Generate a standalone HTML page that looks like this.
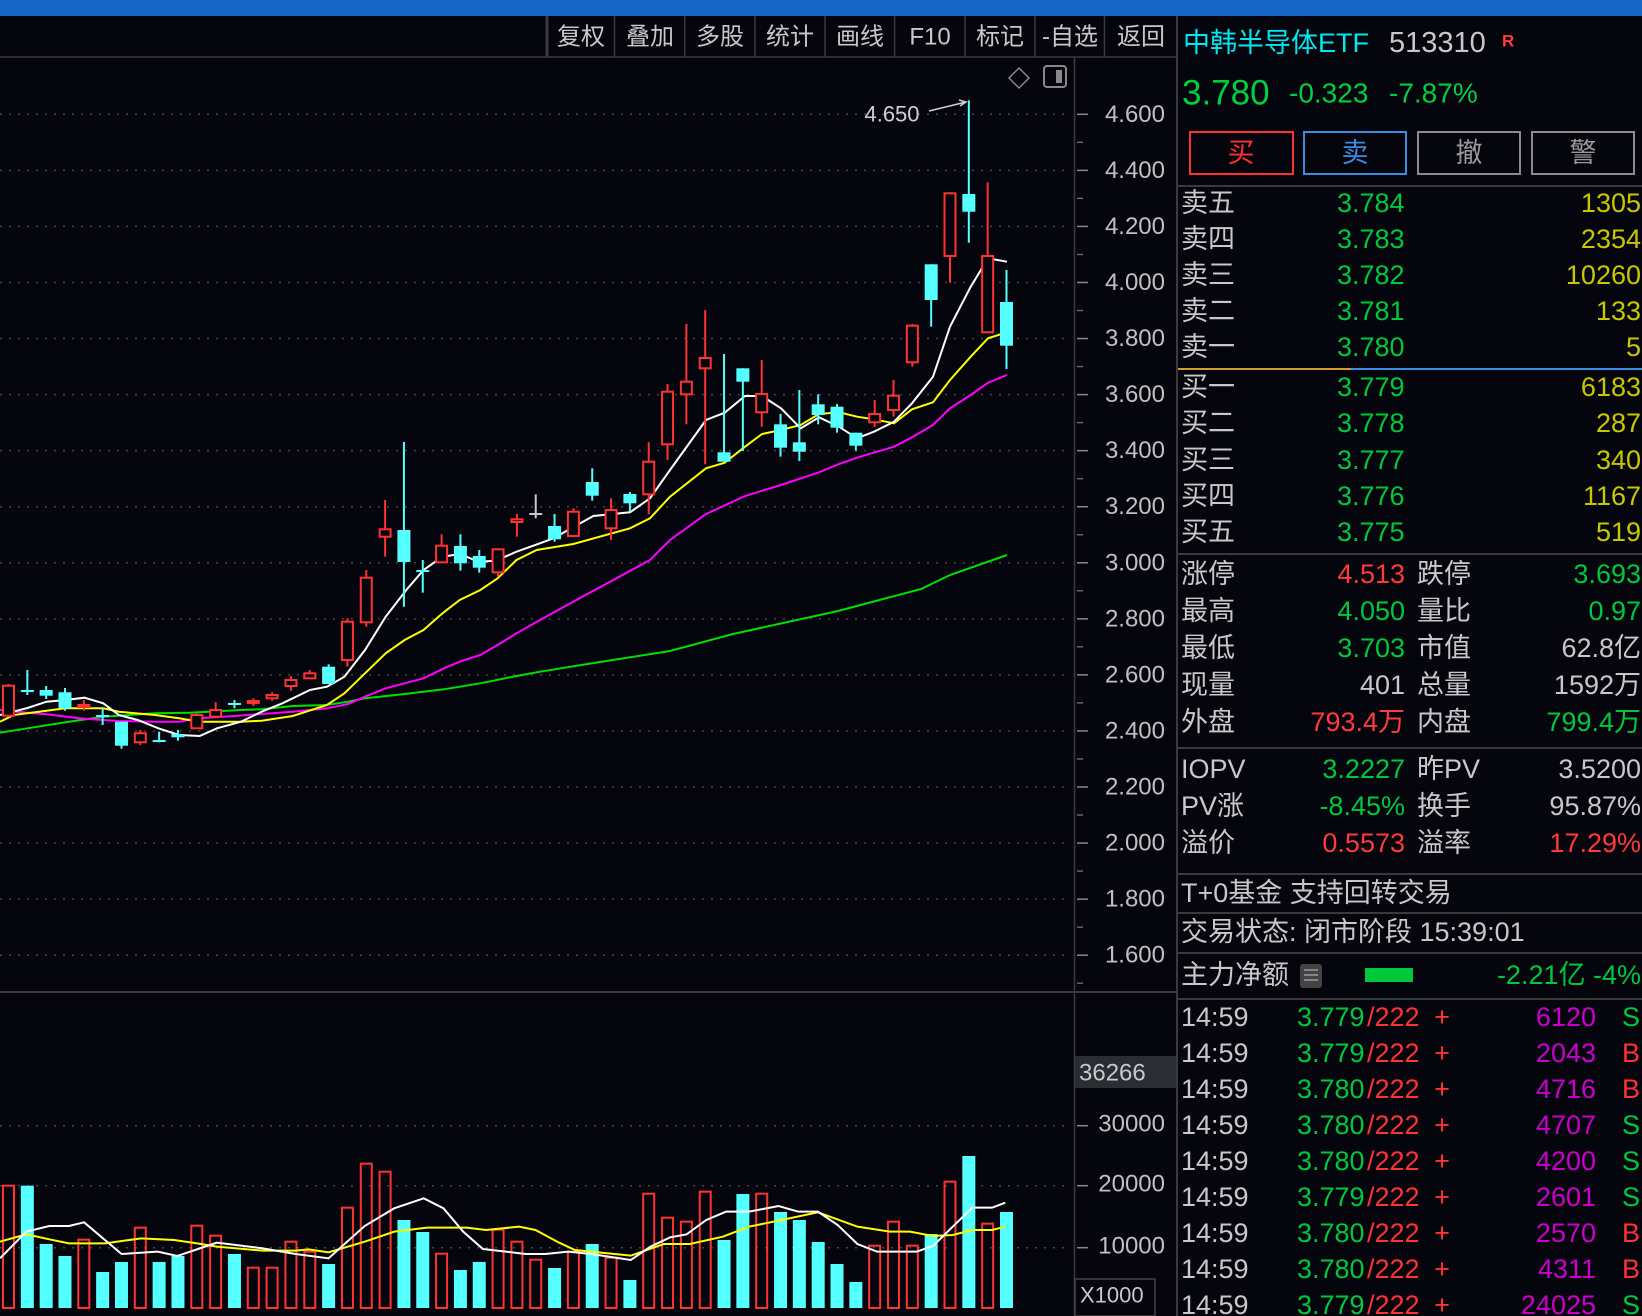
<!DOCTYPE html>
<html><head><meta charset="utf-8"><style>
html,body{margin:0;padding:0;background:#05050e;}
svg{display:block;font-family:"Liberation Sans","Noto Sans CJK SC",sans-serif;}
</style></head><body>
<svg id="s" width="1642" height="1316" viewBox="0 0 1642 1316" xmlns="http://www.w3.org/2000/svg">
<rect width="1642" height="1316" fill="#05050e"/>
<rect width="1642" height="16" fill="#1565c6"/>
<g stroke="#3a3a3a" stroke-width="1.5">
<line x1="0" y1="57" x2="1177" y2="57"/>
<line x1="547" y1="16" x2="547" y2="57" stroke-width="3"/>
<line x1="614.5" y1="16" x2="614.5" y2="57"/><line x1="684.7" y1="16" x2="684.7" y2="57"/>
<line x1="755" y1="16" x2="755" y2="57"/><line x1="825" y1="16" x2="825" y2="57"/>
<line x1="894.6" y1="16" x2="894.6" y2="57"/><line x1="965" y1="16" x2="965" y2="57"/>
<line x1="1035" y1="16" x2="1035" y2="57"/><line x1="1104.5" y1="16" x2="1104.5" y2="57"/>
<line x1="1177" y1="16" x2="1177" y2="1316" stroke-width="2"/>
<line x1="1074.5" y1="57" x2="1074.5" y2="1316"/>
<line x1="0" y1="992" x2="1177" y2="992" stroke-width="2"/>
</g>
<g fill="#c8c8c8" font-size="24" text-anchor="middle" dominant-baseline="central">
<text x="581" y="37">复权</text><text x="650" y="37">叠加</text><text x="720" y="37">多股</text>
<text x="790" y="37">统计</text><text x="860" y="37">画线</text><text x="930" y="37">F10</text>
<text x="1000" y="37">标记</text><text x="1070" y="37">-自选</text><text x="1141" y="37">返回</text>
</g>
<path d="M1019 68 L1029 78 L1019 88 L1009 78 Z" fill="none" stroke="#888" stroke-width="1.5"/>
<rect x="1044" y="66" width="22" height="21" rx="3" fill="none" stroke="#888" stroke-width="2"/>
<rect x="1056" y="70" width="6" height="13" fill="#888"/>
<g id="grid"></g>
<g id="axis" fill="#c0c0c0" font-size="24" text-anchor="end" dominant-baseline="central"></g>
<g id="chart"></g>
<text x="892" y="114" fill="#d0d0d0" font-size="22" text-anchor="middle" dominant-baseline="central">4.650</text>
<path d="M929 111 L966 102 M959 100 L966 102 L960 106" stroke="#d0d0d0" stroke-width="1.5" fill="none"/>
<rect x="1075" y="1056" width="101" height="32" fill="#2a2d33"/>
<text x="1079" y="1073" fill="#c8c8c8" font-size="24" dominant-baseline="central">36266</text>
<rect x="1075" y="1279" width="80" height="37" fill="none" stroke="#444" stroke-width="1.5"/>
<text x="1080" y="1295" fill="#c8c8c8" font-size="22" dominant-baseline="central">X1000</text>
<g font-size="24" text-anchor="end" fill="#c0c0c0" dominant-baseline="central">
<text x="1165" y="1124">30000</text><text x="1165" y="1184">20000</text><text x="1165" y="1246">10000</text>
</g>
<!-- right panel -->
<g dominant-baseline="central">
<text x="1183" y="43" font-size="27" fill="#00e8f0">中韩半导体ETF</text>
<text x="1389" y="43" font-size="29" fill="#c8c8c8">513310</text>
<text x="1502" y="41" font-size="17" font-weight="bold" fill="#ff3a3a">R</text>
<text x="1182" y="93" font-size="35" fill="#00d040">3.780</text>
<text x="1289" y="93" font-size="28" fill="#00d040">-0.323</text>
<text x="1389" y="93" font-size="28" fill="#00d040">-7.87%</text>
</g>
<g fill="none" stroke-width="2">
<rect x="1190" y="132" width="103" height="42" stroke="#ff3030"/>
<rect x="1304" y="132" width="102" height="42" stroke="#3a8de0"/>
<rect x="1418" y="132" width="102" height="42" stroke="#8a8a8a"/>
<rect x="1532" y="132" width="102" height="42" stroke="#8a8a8a"/>
</g>
<g font-size="27" text-anchor="middle" dominant-baseline="central">
<text x="1241" y="153" fill="#ff3030">买</text><text x="1355" y="153" fill="#3a8de0">卖</text>
<text x="1469" y="153" fill="#9a9a9a">撤</text><text x="1583" y="153" fill="#9a9a9a">警</text>
</g>
<g stroke="#3a3a3a" stroke-width="2">
<line x1="1177" y1="186" x2="1642" y2="186"/><line x1="1177" y1="554" x2="1642" y2="554"/>
<line x1="1177" y1="748" x2="1642" y2="748"/><line x1="1177" y1="874" x2="1642" y2="874"/>
<line x1="1177" y1="913" x2="1642" y2="913"/><line x1="1177" y1="953" x2="1642" y2="953"/>
<line x1="1177" y1="999" x2="1642" y2="999"/>
</g>
<line x1="1178" y1="369" x2="1351" y2="369" stroke="#d89a30" stroke-width="2"/>
<line x1="1351" y1="369" x2="1642" y2="369" stroke="#3a8de0" stroke-width="2"/>
<g font-size="27" dominant-baseline="central">
<g fill="#c8c8c8">
<text x="1181" y="203">卖五</text><text x="1181" y="239">卖四</text><text x="1181" y="275">卖三</text><text x="1181" y="311">卖二</text><text x="1181" y="347">卖一</text>
<text x="1181" y="387">买一</text><text x="1181" y="423">买二</text><text x="1181" y="460">买三</text><text x="1181" y="496">买四</text><text x="1181" y="532">买五</text>
</g>
<g fill="#00c83c">
<text x="1337" y="203">3.784</text><text x="1337" y="239">3.783</text><text x="1337" y="275">3.782</text><text x="1337" y="311">3.781</text><text x="1337" y="347">3.780</text>
<text x="1337" y="387">3.779</text><text x="1337" y="423">3.778</text><text x="1337" y="460">3.777</text><text x="1337" y="496">3.776</text><text x="1337" y="532">3.775</text>
</g>
<g fill="#c8c800" text-anchor="end">
<text x="1641" y="203">1305</text><text x="1641" y="239">2354</text><text x="1641" y="275">10260</text><text x="1641" y="311">133</text><text x="1641" y="347">5</text>
<text x="1641" y="387">6183</text><text x="1641" y="423">287</text><text x="1641" y="460">340</text><text x="1641" y="496">1167</text><text x="1641" y="532">519</text>
</g>
<g fill="#c8c8c8">
<text x="1181" y="574">涨停</text><text x="1181" y="611">最高</text><text x="1181" y="648">最低</text><text x="1181" y="685">现量</text><text x="1181" y="722">外盘</text>
<text x="1417" y="574">跌停</text><text x="1417" y="611">量比</text><text x="1417" y="648">市值</text><text x="1417" y="685">总量</text><text x="1417" y="722">内盘</text>
<text x="1181" y="769">IOPV</text><text x="1181" y="806">PV涨</text><text x="1181" y="843">溢价</text>
<text x="1417" y="769">昨PV</text><text x="1417" y="806">换手</text><text x="1417" y="843">溢率</text>
<text x="1181" y="893">T+0基金 支持回转交易</text>
<text x="1181" y="932">交易状态: 闭市阶段 15:39:01</text>
<text x="1181" y="975">主力净额</text>
</g>
<g text-anchor="end">
<text x="1405" y="574" fill="#ff3a3a">4.513</text><text x="1641" y="574" fill="#00c83c">3.693</text>
<text x="1405" y="611" fill="#00c83c">4.050</text><text x="1641" y="611" fill="#00c83c">0.97</text>
<text x="1405" y="648" fill="#00c83c">3.703</text><text x="1641" y="648" fill="#c8c8c8">62.8亿</text>
<text x="1405" y="685" fill="#c8c8c8">401</text><text x="1641" y="685" fill="#c8c8c8">1592万</text>
<text x="1405" y="722" fill="#ff3a3a">793.4万</text><text x="1641" y="722" fill="#00c83c">799.4万</text>
<text x="1405" y="769" fill="#00c83c">3.2227</text><text x="1641" y="769" fill="#c8c8c8">3.5200</text>
<text x="1405" y="806" fill="#00c83c">-8.45%</text><text x="1641" y="806" fill="#c8c8c8">95.87%</text>
<text x="1405" y="843" fill="#ff3a3a">0.5573</text><text x="1641" y="843" fill="#ff3a3a">17.29%</text>
<text x="1641" y="975" fill="#00c83c">-2.21亿  -4%</text>
</g>
</g>
<rect x="1300" y="964" width="22" height="24" rx="3" fill="#444"/>
<g stroke="#999" stroke-width="1.5"><line x1="1304" y1="970" x2="1318" y2="970"/><line x1="1304" y1="975" x2="1318" y2="975"/><line x1="1304" y1="980" x2="1318" y2="980"/></g>
<rect x="1365" y="968" width="48" height="14" fill="#00c83c"/>
<g id="ticks" font-size="27" dominant-baseline="central"></g>
</svg>
<script>
var NS="http://www.w3.org/2000/svg";
function el(p,t,a){var e=document.createElementNS(NS,t);for(var k in a)e.setAttribute(k,a[k]);p.appendChild(e);return e;}
var G=document.getElementById('grid'),A=document.getElementById('axis'),C=document.getElementById('chart'),T=document.getElementById('ticks');
function py(p){return 114.3+(4.6-p)*280.3;}
for(var i=0;i<16;i++){var p=4.6-0.2*i,y=py(p);
 el(G,'line',{x1:0,y1:y,x2:1066,y2:y,stroke:'#454545','stroke-width':1.5,'stroke-dasharray':'2 7'});
 el(G,'line',{x1:1077,y1:y,x2:1088,y2:y,stroke:'#888','stroke-width':1.5});
 el(G,'line',{x1:1077,y1:y+28,x2:1083,y2:y+28,stroke:'#666','stroke-width':1.5});
 var t=el(A,'text',{x:1165,y:y});t.textContent=p.toFixed(3);}
[1125.7,1185.7,1247.7].forEach(function(y){el(G,'line',{x1:0,y1:y,x2:1066,y2:y,stroke:'#454545','stroke-width':1.5,'stroke-dasharray':'2 7'});el(G,'line',{x1:1077,y1:y,x2:1088,y2:y,stroke:'#888','stroke-width':1.5});});
function cx(i){return 8.5+18.83*i;}
var K=[['r',685.7,715.7,684,717],['c',690,691.5,670,695],['c',690,695.7,686,699],['c',692.3,708.3,688,710.7],['r',705,706.7,700,710.7],
['c',715,717,708,725],['c',721.7,745.7,721.7,748.7],['r',733.3,742.3,730,745],['c',740,742,731.7,742.3],['c',734,737.3,730,740.7],
['r',715,728.3,713.3,728.3],['r',710,716.7,702.3,716.7],['c',703,705,700,708.3],['r',701,703,698.3,706],['r',695,698.3,692.3,700.7],
['r',680,686,676,690.7],['r',673.3,678.3,670,678.3],['c',666.7,684,664.3,684],['r',621.7,660,618.3,666.7],['r',577.7,622.3,570,626.7],
['r',529.3,536.7,500,556.7],['c',530,562,442,606.7],['c',570,572,560,592.7],['r',545.7,562.3,534.3,562.3],['c',546,563.3,534.3,570.7],
['c',556,567.7,550,572.7],['r',549.3,572.3,548.3,576.7],['r',519.3,522,514,536.7],['w',513,515,494.3,518.3],['c',526,539.3,514,541.7],
['r',511.7,536,508.3,536],['c',482,495.7,468.3,500.7],['r',510,528.3,498.3,540],['c',494,503.3,492,511.7],['r',461.7,494.3,442.3,514.3],
['r',391.7,444.3,384,460],['r',381.7,394.3,324,424.3],['r',358,368.3,310,464.3],['c',452.3,461.7,354,461.7],['c',368.3,381.7,368.3,451],
['r',394,412.3,360,426.7],['c',424.3,447.7,414,456.7],['c',442.3,451.7,390,461],['c',404.3,415,394.3,424.3],['c',406.7,427.7,404,432.7],
['c',432.7,445.7,432.7,450.7],['r',414,422.3,400,426.7],['r',395.7,410,380,416.7],['r',325.7,362.3,324,366.7],['c',264.3,300,264.3,326.7],
['r',193.3,256,192.3,282.7],['c',194,211.7,100.3,242.7],['r',256,332.3,182.3,332.3],['c',302,345.7,270,369]];
function pl(pts,col){el(C,'polyline',{points:pts.map(function(p){return p.join(',')}).join(' '),fill:'none',stroke:col,'stroke-width':2});}
pl([[0,732.7],[27.5,728.3],[68.9,721.7],[103.3,716.7],[155,713.3],[189.4,712.7],[241,710],[261.7,709.3],[292.7,706],[327,705],[348,701.7],[365,698.3],[404.6,694],[444,689.3],[480.4,683.3],[516.5,676],[540,671.7],[600,662],[670,651],[733,634],[838,611],[921,589],[950,575],[1007,555]],'#00e000');
pl([[0,710],[27.5,712.7],[46.5,714.3],[79,718.3],[103.3,720],[118.8,721],[155,721.7],[179,721.7],[199.7,718.3],[234,716],[261.7,714],[292.7,711.7],[327,708.3],[348,704],[365,696.7],[385.7,688.3],[404.6,683.3],[423.5,678.3],[444,668.3],[459.7,661.7],[480.4,655],[497.6,645],[516.5,633.3],[540,620],[580,598],[613.3,580],[650,560],[670,540],[706,514],[745,496],[781,485],[819,472.3],[839,464],[857,457.7],[894,446.7],[912,437.3],[933,425],[950,408.3],[970.7,395],[988,382.7],[1007,375]],'#ff00ff');
pl([[0,721.7],[13.8,715],[46.5,710.7],[65.4,708.3],[103.3,708.3],[118.8,711.7],[155,715],[179,718.3],[199.7,721.7],[241,721.7],[261.7,720.7],[292.7,716],[327,705],[344.4,693.3],[365,673.3],[385.7,653.3],[404.6,640],[423.5,630],[442.5,613.3],[459.7,600],[480.4,590],[497.6,578.3],[516.5,560],[536.7,550],[573.3,544],[630,528.3],[650,518.3],[670,496.7],[706,468.3],[724.7,462.7],[745,446.7],[762,434],[781,430],[800.7,425],[819,414],[839,412.3],[857,416.7],[874,419.3],[894,423.3],[912,409.3],[933,402.3],[950,380],[970.7,356.7],[988,338.3],[1007,332.3]],'#ffff00');
pl([[0,715],[27.5,708],[46.5,701.7],[65.4,700],[84.4,697.7],[103.3,703.3],[118.8,715],[137.7,720],[158.4,728.3],[179,735],[199.7,736],[217,728.3],[241,721.7],[261.7,711.7],[282.4,703.3],[310,690],[327,686.7],[344.4,676.7],[365,650],[385.7,616.7],[406.3,590],[423.5,570],[442.5,556.7],[459.7,554],[478.6,561.7],[495.9,560.7],[516.5,551.7],[540,543.3],[553.3,538.3],[593.3,516],[630,512.3],[650,498.3],[670,470],[706,420],[724.7,412.7],[745,396],[762,396],[781,408.3],[800.7,428.3],[819,417.3],[839,426.7],[857,438.3],[874,431.7],[894,421.7],[912,403.3],[933,376.7],[950,326.7],[970.7,286.7],[988,258.3],[1007,261.7]],'#ffffff');
K.forEach(function(k,i){var x=cx(i),col=k[0]=='r'?'#ff3232':k[0]=='c'?'#54ffff':'#c8c8c8';
 el(C,'line',{x1:x,y1:k[3],x2:x,y2:k[4],stroke:col,'stroke-width':2});
 var h=Math.max(k[2]-k[1],2);
 if(k[0]=='r')el(C,'rect',{x:x-5.5,y:k[1],width:11,height:h,fill:'#05050e',stroke:col,'stroke-width':2});
 else el(C,'rect',{x:x-6.5,y:k[1],width:13,height:h,fill:col});
});
var V=[['r',257],['c',257],['c',432],['c',468],['r',419],['c',516],['c',486],['r',383],['c',486],['c',468],['r',377],['r',407],['c',462],['r',503],['r',503],['r',425],['r',455],['c',492],['r',323],['r',191],['r',215],['c',360],['c',396],['r',461],['c',510],['c',486],['r',389],['r',425],['r',479],['c',504],['r',455],['c',432],['r',473],['c',540],['r',281],['r',353],['r',365],['r',275],['c',420],['c',282],['r',281],['c',336],['c',360],['c',426],['c',492],['c',546],['r',437],['r',365],['r',437],['c',402],['r',245],['c',168],['r',371],['c',336]];
V.forEach(function(v,i){var x=cx(i),top=1100+v[1]/3,b=1308;
 if(v[0]=='r')el(C,'rect',{x:x-5.5,y:top,width:11,height:b-top,fill:'none',stroke:'#ff3232','stroke-width':2});
 else el(C,'rect',{x:x-6.5,y:top,width:13,height:b-top,fill:'#54ffff'});});
function zl(arr,col){pl(arr.map(function(p){return [p[0]/1.522,1100+p[1]/3]}),col);}
zl([[0,425],[40,403],[75,418],[105,430],[160,430],[215,415],[265,420],[300,430],[330,440],[400,452],[450,452],[470,448],[500,457],[555,425],[600,395],[650,383],[710,383],[740,390],[790,380],[815,390],[850,427],[875,450],[960,467],[1010,432],[1050,432],[1100,410],[1140,380],[1185,362],[1245,337],[1305,380],[1355,395],[1385,395],[1420,408],[1450,405],[1480,390],[1510,390],[1530,380]],'#ffff00');
zl([[0,475],[40,395],[75,378],[105,378],[128,367],[185,462],[240,455],[270,468],[330,428],[400,445],[450,462],[500,475],[555,378],[600,325],[645,295],[675,325],[705,395],[735,447],[770,455],[800,462],[830,462],[865,455],[900,462],[960,480],[990,440],[1020,412],[1045,403],[1075,360],[1105,335],[1140,335],[1185,318],[1215,335],[1245,335],[1275,375],[1305,432],[1335,455],[1395,455],[1420,438],[1450,380],[1480,323],[1510,323],[1530,308]],'#ffffff');
var R=[['3.779','6120','S'],['3.779','2043','B'],['3.780','4716','B'],['3.780','4707','S'],['3.780','4200','S'],['3.779','2601','S'],['3.780','2570','B'],['3.780','4311','B'],['3.779','24025','S']];
R.forEach(function(r,i){var y=1017+36*i;
 el(T,'text',{x:1181,y:y,fill:'#c8c8c8'}).textContent='14:59';
 el(T,'text',{x:1297,y:y,fill:'#00c83c'}).textContent=r[0];
 el(T,'text',{x:1367,y:y,fill:'#ff3232'}).textContent='/222';
 el(T,'text',{x:1442,y:y,fill:'#ff3232','text-anchor':'middle'}).textContent='+';
 el(T,'text',{x:1596,y:y,fill:'#cc00cc','text-anchor':'end'}).textContent=r[1];
 el(T,'text',{x:1622,y:y,fill:r[2]=='S'?'#00c83c':'#ff3232'}).textContent=r[2];});
</script>
</body></html>
